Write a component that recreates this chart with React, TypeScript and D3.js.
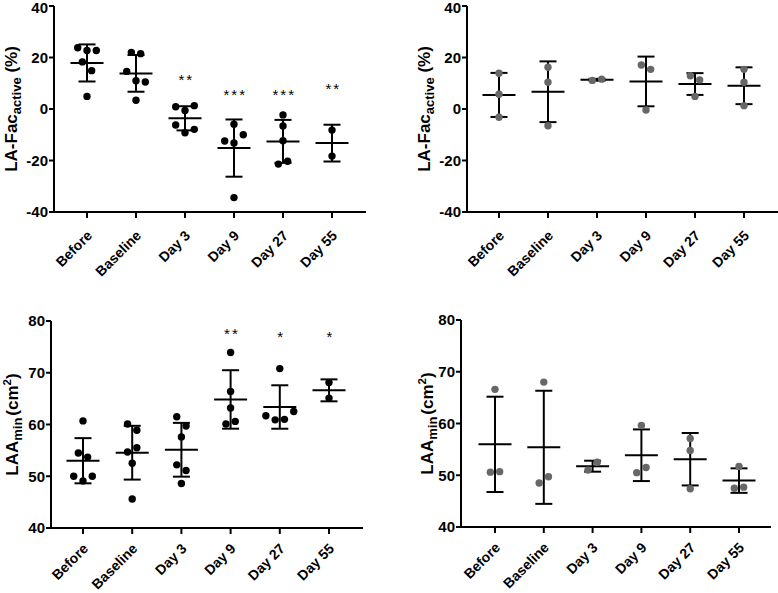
import React from "react";
import * as d3 from "d3";

const categories = ["Before", "Baseline", "Day 3", "Day 9", "Day 27", "Day 55"];

// LA-Fac active (%) — treated group (left, black)
const facTreated: number[][] = [
  [23.8, 22.7, 22.7, 18.3, 14.9, 4.9],
  [22.0, 21.5, 14.6, 11.0, 10.5, 3.4],
  [0.9, -0.6, 1.3, -6.2, -9.2, -7.9],
  [-5.9, -12.4, -13.2, -10.0, -34.4],
  [-2.3, -6.6, -12.3, -21.4, -20.3],
  [-8.2, -18.3],
];
const facTreatedStars = ["", "", "**", "***", "***", "**"];
const facTreatedStarLevel = [0, 0, 12.5, 7.0, 7.0, 9.3];

// LA-Fac active (%) — control group (right, grey)
const facControl: number[][] = [
  [13.9, 5.7, -3.2],
  [16.2, 10.4, -6.5],
  [11.1, 11.6],
  [17.1, 15.4, -0.4],
  [12.9, 11.3, 4.9],
  [15.4, 10.4, 1.3],
];

// LAA min (cm²) — treated group
const laaTreated: number[][] = [
  [60.7, 54.5, 53.7, 50.0, 49.1, 50.0],
  [60.1, 58.9, 54.7, 55.5, 52.5, 45.6],
  [61.5, 59.7, 57.6, 52.2, 51.1, 48.6],
  [73.9, 66.4, 63.2, 60.1, 60.6],
  [70.8, 61.7, 60.9, 61.0, 62.5],
  [68.1, 65.1],
];
const laaTreatedStars = ["", "", "", "**", "*", "*"];
const laaTreatedStarLevel = [0, 0, 0, 78.1, 77.7, 77.7];

// LAA min (cm²) — control group
const laaControl: number[][] = [
  [66.6, 50.6, 50.7],
  [68.0, 48.5, 49.7],
  [51.0, 52.5],
  [59.6, 50.5, 51.5],
  [57.1, 54.8, 47.4],
  [51.7, 47.5, 47.7],
];

const facTicks = [-40, -20, 0, 20, 40];
const laaTicks = [40, 50, 60, 70, 80];

const FONT = "'Liberation Sans', Arial, Helvetica, sans-serif";

type PanelProps = {
  data: number[][];
  stars?: string[];
  starLevel?: number[];
  domain: [number, number];
  ticks: number[];
  axisX: number;
  axisRight: number;
  yTop: number;
  yBottom: number;
  catRange: [number, number];
  catLabelOffset: number;
  dotColor: string;
  labelX: number;
  label: "fac" | "laa";
};

function swarmOffsets(values: number[], y: (v: number) => number, thr = 10, step = 9.3) {
  const order = values.map((_, i) => i).sort((a, b) => values[b] - values[a]);
  const clusters: number[][] = [];
  let cur: number[] = [];
  order.forEach((idx, k) => {
    if (k > 0 && Math.abs(y(values[idx]) - y(values[order[k - 1]])) >= thr) {
      clusters.push(cur);
      cur = [];
    }
    cur.push(idx);
  });
  if (cur.length) clusters.push(cur);
  const off = new Array(values.length).fill(0);
  clusters.forEach((c) => {
    const s = [...c].sort((a, b) => a - b);
    s.forEach((idx, k) => {
      off[idx] = (k - (s.length - 1) / 2) * step;
    });
  });
  return off;
}

function Panel(p: PanelProps) {
  const y = d3.scaleLinear().domain(p.domain).range([p.yBottom, p.yTop]);
  const x = d3.scalePoint<string>().domain(categories).range(p.catRange);
  const labelY = (p.yTop + p.yBottom) / 2;
  const sw = 2;
  const tickFs = 15;
  return (
    <g fontFamily={FONT}>
      {/* axes */}
      <line x1={p.axisX} x2={p.axisX} y1={p.yTop} y2={p.yBottom} stroke="#000" strokeWidth={sw} />
      <line x1={p.axisX - 1} x2={p.axisRight} y1={p.yBottom} y2={p.yBottom} stroke="#000" strokeWidth={sw} />
      {p.ticks.map((t) => {
        const ty = Math.max(y(t), 5.2);
        return (
          <g key={t}>
            <line x1={p.axisX - 5} x2={p.axisX} y1={y(t)} y2={y(t)} stroke="#000" strokeWidth={sw} />
            <text
              x={p.axisX - 6}
              y={ty + (y(t) < 10 ? 1.2 : 0)}
              dy="0.36em"
              textAnchor="end"
              fontSize={tickFs}
              fontWeight="bold"
              fill="#000"
            >
              {t}
            </text>
          </g>
        );
      })}
      {categories.map((c) => (
        <g key={c}>
          <line x1={x(c)!} x2={x(c)!} y1={p.yBottom} y2={p.yBottom + 6} stroke="#000" strokeWidth={sw} />
          <text
            transform={`translate(${x(c)! + 6},${p.yBottom + p.catLabelOffset}) rotate(-45)`}
            textAnchor="end"
            fontSize={14}
            fontWeight="bold"
            fill="#000"
          >
            {c}
          </text>
        </g>
      ))}
      {/* y label */}
      {p.label === "fac" ? (
        <text transform={`translate(${p.labelX},${labelY}) rotate(-90)`} textAnchor="middle" fontSize={17} fontWeight="bold" fill="#000">
          <tspan>LA-Fac</tspan>
          <tspan fontSize={13} dy={4}>active</tspan>
          <tspan dy={-4}> (%)</tspan>
        </text>
      ) : (
        <text transform={`translate(${p.labelX},${labelY}) rotate(-90)`} textAnchor="middle" fontSize={17} fontWeight="bold" fill="#000">
          <tspan>LAA</tspan>
          <tspan fontSize={13} dy={4}>min</tspan>
          <tspan dy={-4} dx={2}>(cm</tspan>
          <tspan fontSize={11.5} dy={-7}>2</tspan>
          <tspan dy={7}>)</tspan>
        </text>
      )}
      {/* groups */}
      {p.data.map((vals, i) => {
        const cx = x(categories[i])!;
        const mean = d3.mean(vals)!;
        const sd = d3.deviation(vals) ?? 0;
        const hi = y(mean + sd);
        const lo = y(mean - sd);
        const offs = swarmOffsets(vals, y);
        return (
          <g key={i}>
            <line x1={cx} x2={cx} y1={hi} y2={lo} stroke="#000" strokeWidth={sw} />
            <line x1={cx - 8.5} x2={cx + 8.5} y1={hi} y2={hi} stroke="#000" strokeWidth={sw} />
            <line x1={cx - 8.5} x2={cx + 8.5} y1={lo} y2={lo} stroke="#000" strokeWidth={sw} />
            <line x1={cx - 16.5} x2={cx + 16.5} y1={y(mean)} y2={y(mean)} stroke="#000" strokeWidth={sw} />
            {vals.map((v, k) => (
              <circle key={k} cx={cx + offs[k]} cy={y(v)} r={3.7} fill={p.dotColor} />
            ))}
            {p.stars && p.stars[i] ? (
              <text
                x={cx + 1.3}
                y={y(p.starLevel![i]) + 8.6}
                textAnchor="middle"
                fontSize={15}
                letterSpacing={2}
                fill="#000"
              >
                {p.stars[i]}
              </text>
            ) : null}
          </g>
        );
      })}
    </g>
  );
}

export default function App() {
  return (
    <svg
      width={778}
      height={593}
      viewBox="0 0 778 593"
      style={{ position: "absolute", left: 0, top: 0, background: "#fff" }}
    >
      <rect width={778} height={593} fill="#fff" />
      <Panel
        data={facTreated}
        stars={facTreatedStars}
        starLevel={facTreatedStarLevel}
        domain={[-40, 40]}
        ticks={facTicks}
        axisX={54}
        axisRight={366}
        yTop={6}
        yBottom={212}
        catRange={[87, 332]}
        catLabelOffset={24.5}
        dotColor="#000"
        labelX={17}
        label="fac"
      />
      <Panel
        data={facControl}
        domain={[-40, 40]}
        ticks={facTicks}
        axisX={467}
        axisRight={778}
        yTop={6}
        yBottom={212}
        catRange={[499, 744]}
        catLabelOffset={24.5}
        dotColor="#676767"
        labelX={430}
        label="fac"
      />
      <Panel
        data={laaTreated}
        stars={laaTreatedStars}
        starLevel={laaTreatedStarLevel}
        domain={[40, 80]}
        ticks={laaTicks}
        axisX={51}
        axisRight={363}
        yTop={321}
        yBottom={528}
        catRange={[83, 329]}
        catLabelOffset={21.5}
        dotColor="#000"
        labelX={17.5}
        label="laa"
      />
      <Panel
        data={laaControl}
        domain={[40, 80]}
        ticks={laaTicks}
        axisX={461}
        axisRight={771}
        yTop={320}
        yBottom={527}
        catRange={[495, 739]}
        catLabelOffset={21.5}
        dotColor="#676767"
        labelX={433}
        label="laa"
      />
    </svg>
  );
}
